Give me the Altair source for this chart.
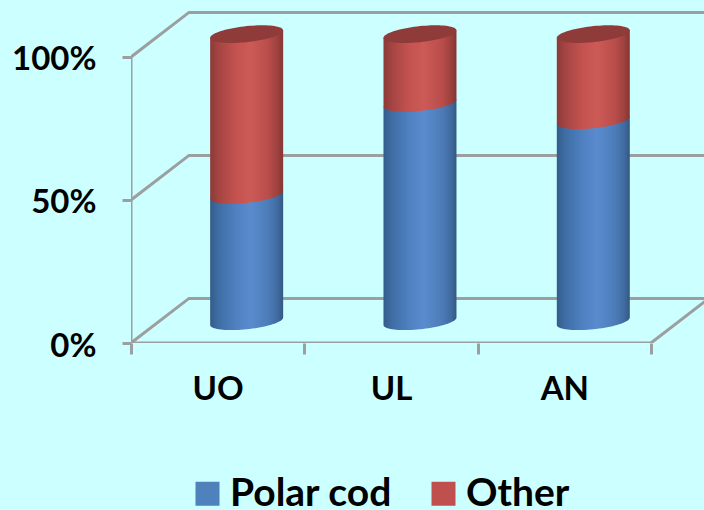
import numpy as np
import pandas as pd
import altair as alt

# Stacked composition per site, in percent
sites = ["UO", "UL", "AN"]
polar_cod = [44, 76, 70]
other = [56, 24, 30]
series_names = ["Polar cod", "Other"]

# Pseudo-3D box: the back wall sits behind the front plane by this offset (data units)
DEPTH_X, DEPTH_Y = 0.3346, 15.6
# Cylinders stand half way into the box
HALF_W = 0.2106       # cylinder radius along x
ELL_B = 2.8           # minor radius of the cap ellipse, in percent units
ELL_SHEAR = 1.3       # cap tilt at the rim, in percent units
CYL_BASE = 7.6        # height of the cylinder foot above the front floor edge
CYL_STRETCH = 1.004   # perspective stretch of the cylinders

X_MAX, Y_MAX = 3.306, 119.93
x_scale = alt.Scale(domain=[0, X_MAX], nice=False, zero=False)
y_scale = alt.Scale(domain=[0, Y_MAX], nice=False, zero=False)

GREY = "#9c9f9f"
FONT = "Lato"


def hgrad(stops):
    return alt.LinearGradient(
        gradient="linear", x1=0, x2=1, y1=0, y2=0,
        stops=[alt.GradientStop(offset=o, color=c) for o, c in stops],
    )


blue_fill = hgrad([(0, "#345c8c"), (0.12, "#3f6ea5"), (0.35, "#4f80c0"),
                   (0.55, "#5a8bce"), (0.8, "#4c7cb8"), (0.93, "#3f6a9f"), (1, "#34587f")])
red_fill = hgrad([(0, "#8c3a38"), (0.12, "#a54543"), (0.35, "#c4524f"),
                  (0.55, "#cc5b57"), (0.8, "#b94d4a"), (0.93, "#9c403e"), (1, "#843533")])

# Outline samples for every cylinder segment and cap
t = np.linspace(np.pi, 0, 41)
unit_x = np.cos(t)
unit_low = np.sin(t)

seg_rows, cap_rows, base_rows = [], [], []
for i, site in enumerate(sites):
    cx = i + 0.5 + DEPTH_X / 2
    low = 0
    for name, val in zip(series_names, (polar_cod[i], other[i])):
        high = low + val
        y_low = low * CYL_STRETCH + CYL_BASE
        y_high = high * CYL_STRETCH + CYL_BASE
        base_rows.append(dict(series=name, site=site, x0=cx - 0.1, x1=cx + 0.1,
                              y0=y_low, y1=y_high))
        for ux, ul in zip(unit_x, unit_low):
            # in screen terms the cap rises to the right
            seg_rows.append(dict(series=name, site=site, x=cx + HALF_W * ux,
                                 top=y_high + ELL_SHEAR * ux,
                                 bottom=y_low + ELL_SHEAR * ux - ELL_B * ul))
            if name == "Other":
                cap_rows.append(dict(site=site, x=cx + HALF_W * ux,
                                     top=y_high + ELL_SHEAR * ux + ELL_B * ul,
                                     bottom=y_high + ELL_SHEAR * ux - ELL_B * ul))
        low = high

segments = pd.DataFrame(seg_rows)
caps = pd.DataFrame(cap_rows)
bases = pd.DataFrame(base_rows)

# Walls and floor of the box
wall_rows = []
for level in (0, 50, 100):
    wall_rows += [dict(g=f"w{level}", x=0, y=level),
                  dict(g=f"w{level}", x=DEPTH_X, y=level + DEPTH_Y),
                  dict(g=f"w{level}", x=X_MAX + 0.1, y=level + DEPTH_Y)]
wall_rows += [dict(g="front", x=0, y=0), dict(g="front", x=3, y=0),
              dict(g="side", x=3, y=0), dict(g="side", x=3 + DEPTH_X, y=DEPTH_Y),
              dict(g="yaxis", x=0, y=0), dict(g="yaxis", x=0, y=100)]
walls = pd.DataFrame(wall_rows)

# Axis ticks sit on category boundaries, labels on category centres
x_tick_values = [0, 0.5, 1, 1.5, 2, 2.5, 3]
x_labels = "{'0.5':'UO','1.5':'UL','2.5':'AN'}[format(datum.value,'.1f')] || ''"

x_axis = alt.Axis(values=x_tick_values, labelExpr=x_labels, domain=False, grid=False, title=None,
                  tickColor=GREY, tickWidth=3, tickSize=11,
                  tickOpacity={"condition": {"test": "datum.value % 1 === 0", "value": 1}, "value": 0},
                  labelFont=FONT, labelFontWeight="bold", labelFontSize=33,
                  labelColor="black", labelPadding=19, labelFlush=False, labelOverlap=False)
y_axis = alt.Axis(values=[0, 50, 100], labelExpr="datum.value + '%'", domain=False, grid=False, title=None,
                  tickColor=GREY, tickWidth=3, tickSize=9,
                  labelFont=FONT, labelFontWeight="bold", labelFontSize=33,
                  labelColor="black", labelPadding=26, labelOffset=3)

frame = alt.Chart(walls).mark_line(color=GREY, strokeWidth=3, clip=True, strokeCap="square").encode(
    x=alt.X("x:Q", scale=x_scale, axis=x_axis),
    y=alt.Y("y:Q", scale=y_scale, axis=y_axis),
    detail="g:N",
)

# Flat core of each segment: carries the colour legend
core = alt.Chart(bases).mark_rect().encode(
    x=alt.X("x0:Q", scale=x_scale, axis=x_axis),
    x2="x1:Q",
    y=alt.Y("y0:Q", scale=y_scale, axis=y_axis),
    y2="y1:Q",
    color=alt.Color("series:N",
                    scale=alt.Scale(domain=series_names, range=["#4f81bd", "#c0504d"]),
                    legend=alt.Legend(title=None, orient="none", direction="horizontal",
                                      legendX=57, legendY=474, symbolType="square", symbolSize=576,
                                      symbolStrokeWidth=0, symbolOpacity=1, labelFont=FONT,
                                      labelFontWeight="bold", labelFontSize=39, labelColor="black",
                                      labelOffset=3, columnPadding=31, padding=0, labelLimit=400)),
)


def body(name, fill):
    return alt.Chart(segments[segments.series == name]).mark_area(fill=fill, opacity=1).encode(
        x=alt.X("x:Q", scale=x_scale, axis=x_axis),
        y=alt.Y("top:Q", scale=y_scale, axis=y_axis, stack=None),
        y2="bottom:Q",
        detail="site:N",
    )


cap = alt.Chart(caps).mark_area(fill="#8f3b39", opacity=1).encode(
    x=alt.X("x:Q", scale=x_scale, axis=x_axis),
    y=alt.Y("top:Q", scale=y_scale, axis=y_axis, stack=None),
    y2="bottom:Q",
    detail="site:N",
)

chart = alt.layer(frame, core, body("Polar cod", blue_fill), body("Other", red_fill), cap).properties(
    width=573, height=343,
    padding={"left": 131, "top": 0, "right": 0, "bottom": 167},
    autosize=alt.AutoSizeParams(type="none"),
    background="#ccffff",
).configure_view(stroke=None)

chart.save("out.html", embed_options={"renderer": "svg", "actions": False})
